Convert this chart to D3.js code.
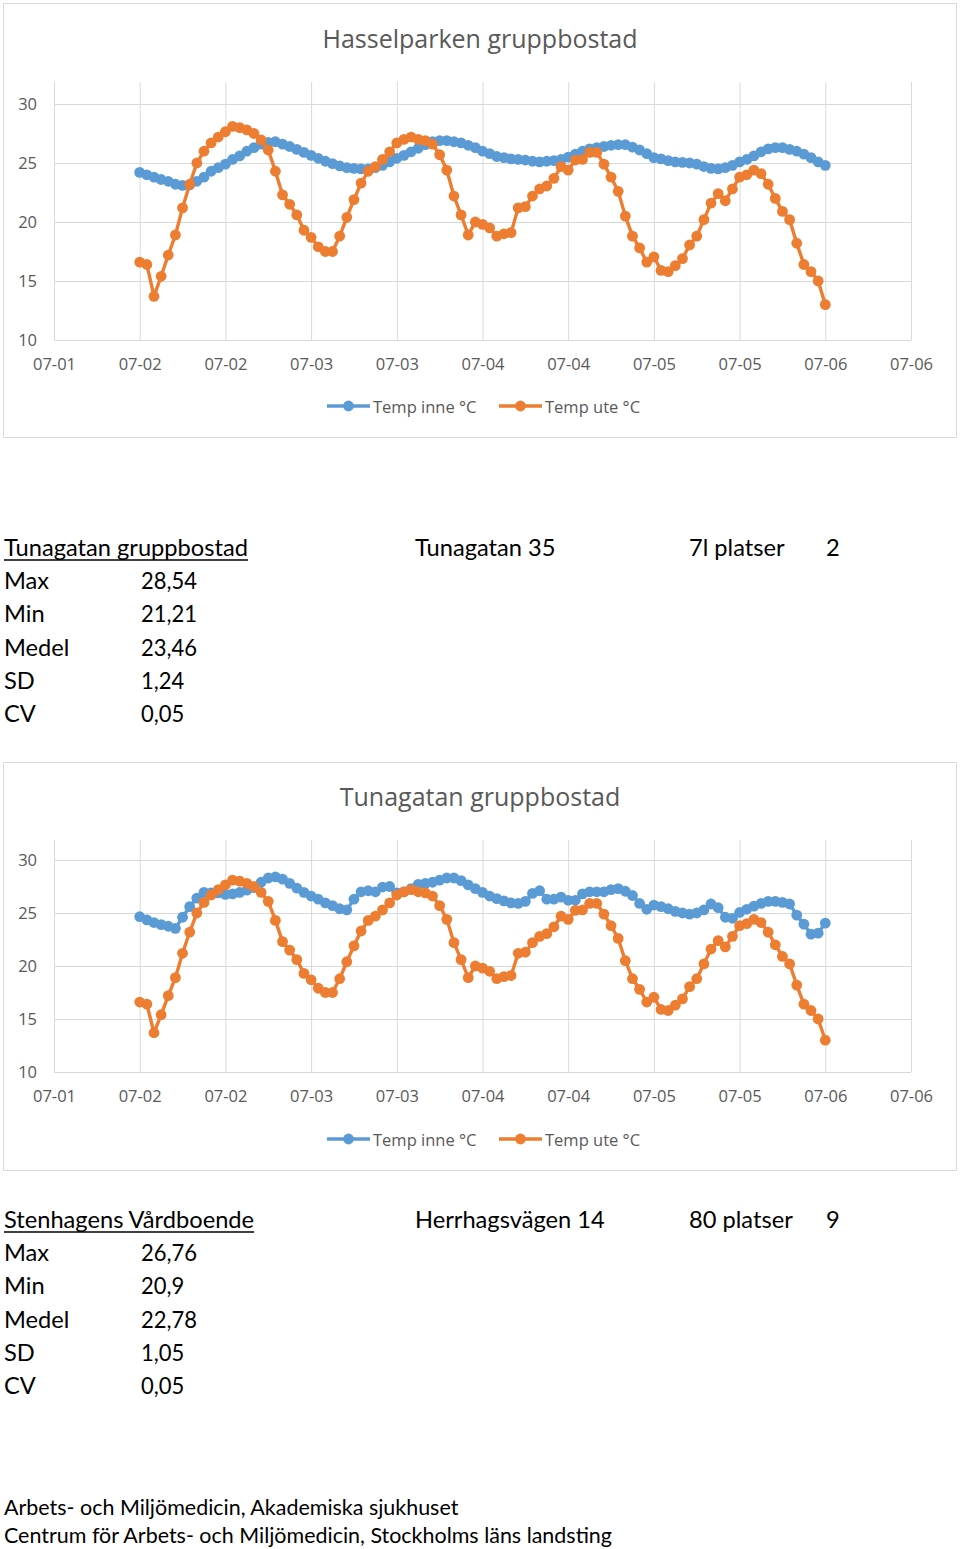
<!DOCTYPE html>
<html><head><meta charset="utf-8">
<script src="https://cdn.jsdelivr.net/npm/d3@7"></script>
<style>body{margin:0;background:#fff}svg{display:block}</style>
</head><body><svg id="c" width="960" height="1549"></svg>
<script>
// ---------------- data ----------------
const xLabels = ["07-01","07-02","07-02","07-03","07-03","07-04","07-04","07-05","07-05","07-06","07-06"];
const yTicks = [10,15,20,25,30];
const seriesNames = ["Temp inne °C","Temp ute °C"];
const chartTitles = ["Hasselparken gruppbostad","Tunagatan gruppbostad"];

const tempUte = [
16.6,16.4,13.7,15.4,17.2,18.9,21.2,23.2,25.0,26.0,
26.7,27.2,27.65,28.1,28.0,27.8,27.5,26.95,26.1,24.3,
22.3,21.5,20.6,19.3,18.7,17.9,17.5,17.5,18.8,20.4,
21.9,23.3,24.3,24.7,25.3,25.95,26.7,27.0,27.2,27.0,
26.9,26.6,25.7,24.4,22.2,20.6,18.9,20.0,19.8,19.5,
18.8,19.0,19.1,21.2,21.3,22.2,22.8,23.05,23.7,24.7,
24.4,25.25,25.3,25.9,25.9,24.9,23.8,22.6,20.5,18.8,
17.8,16.6,17.05,15.9,15.8,16.3,16.9,18.05,18.8,20.2,
21.6,22.4,21.8,22.8,23.8,24.0,24.4,24.1,23.2,22.0,
20.9,20.2,18.2,16.4,15.8,15.0,13.0];

const hasselInne = [
24.2,24.0,23.8,23.6,23.45,23.2,23.1,23.15,23.45,23.8,
24.3,24.6,24.9,25.3,25.6,26.0,26.3,26.6,26.75,26.8,
26.6,26.4,26.15,25.9,25.65,25.4,25.15,24.95,24.75,24.6,
24.55,24.5,24.5,24.6,24.8,25.1,25.4,25.65,25.95,26.25,
26.55,26.8,26.9,26.9,26.8,26.7,26.5,26.3,26.0,25.8,
25.55,25.45,25.35,25.3,25.25,25.15,25.1,25.15,25.2,25.3,
25.5,25.75,26.0,26.2,26.3,26.4,26.5,26.55,26.55,26.35,
26.1,25.8,25.45,25.35,25.2,25.1,25.05,25.0,24.9,24.7,
24.55,24.5,24.6,24.8,25.1,25.3,25.6,25.95,26.2,26.3,
26.3,26.15,26.0,25.75,25.45,25.1,24.8];

const tunaInne = [
24.65,24.35,24.1,23.9,23.75,23.55,24.6,25.6,26.4,26.95,
26.9,26.9,26.75,26.8,26.95,27.15,27.4,27.9,28.3,28.4,
28.2,27.8,27.35,26.95,26.6,26.3,25.95,25.7,25.4,25.3,
26.3,27.0,27.1,27.0,27.45,27.5,26.9,27.0,27.3,27.7,
27.8,27.9,28.1,28.3,28.3,28.05,27.65,27.3,26.95,26.6,
26.35,26.15,25.95,25.9,26.1,26.85,27.1,26.3,26.3,26.5,
26.2,26.2,26.8,27.0,27.0,27.0,27.2,27.3,27.05,26.65,
25.9,25.35,25.75,25.6,25.4,25.15,25.0,24.9,25.0,25.3,
25.85,25.5,24.6,24.5,25.05,25.35,25.65,25.9,26.1,26.1,
26.0,25.85,24.8,23.95,23.0,23.1,24.05];

const statLabels = ["Max","Min","Medel","SD","CV"];
const tunaHeader = ["Tunagatan gruppbostad","Tunagatan 35","7l platser","2"];
const tunaStats = ["28,54","21,21","23,46","1,24","0,05"];
const stenHeader = ["Stenhagens Vårdboende","Herrhagsvägen 14","80 platser","9"];
const stenStats = ["26,76","20,9","22,78","1,05","0,05"];
const footerLines = ["Arbets- och Miljömedicin, Akademiska sjukhuset",
  "Centrum för Arbets- och Miljömedicin, Stockholms läns landsting"];

// ---------------- drawing ----------------
const svg = d3.select("#c");
svg.append("rect").attr("width",960).attr("height",1549).attr("fill","#fff");

const BLUE = "#5B9BD5", ORANGE = "#ED7D31", GRID = "#D9D9D9", TXT = "#595959";
const CF = "'Open Sans', sans-serif";
const tickIdx = xLabels.map((d,i)=> -12 + i*12);
const R = 5.4, LW = 3.4;

function drawChart(cfg, title, inne, ute){
  const g = svg.append("g");
  g.append("rect").attr("x",3.5).attr("y",cfg.boxTop).attr("width",953)
    .attr("height",cfg.boxBottom-cfg.boxTop).attr("fill","#fff").attr("stroke",GRID);
  g.append("text").attr("x",480).attr("y",cfg.titleY).attr("text-anchor","middle")
    .attr("dominant-baseline","central").attr("font-family",CF).attr("font-size",25)
    .attr("fill",TXT).text(title);

  const x = d3.scaleLinear().domain([-12,108]).range([54,911]);
  const y = d3.scaleLinear().domain([10,30]).range([cfg.y10,cfg.y30]);

  const ya = g.append("g").attr("transform","translate(54,0)")
    .call(d3.axisLeft(y).tickValues(yTicks).tickSize(-857).tickPadding(17).tickFormat(d3.format("d")));
  const xa = g.append("g").attr("transform",`translate(0,${cfg.y10})`)
    .call(d3.axisBottom(x).tickValues(tickIdx).tickSize(-(cfg.y10-cfg.plotTop)).tickPadding(18)
      .tickFormat((d,i)=>xLabels[i]));
  [ya,xa].forEach(a=>{
    a.select(".domain").remove();
    a.selectAll(".tick line").attr("stroke",GRID).attr("stroke-width",1);
    a.selectAll(".tick text").attr("fill",TXT).attr("font-family",CF).attr("font-size",16.5);
  });

  const line = d3.line().x((d,i)=>x(i)).y(d=>y(d));
  [[inne,BLUE],[ute,ORANGE]].forEach(([data,col])=>{
    const s = g.append("g");
    s.append("path").datum(data).attr("d",line).attr("fill","none")
      .attr("stroke",col).attr("stroke-width",LW).attr("stroke-linejoin","round");
    s.selectAll("circle").data(data).join("circle")
      .attr("cx",(d,i)=>x(i)).attr("cy",d=>y(d)).attr("r",R).attr("fill",col);
  });

  // legend
  const items = [{name:seriesNames[0],col:BLUE,x0:327},{name:seriesNames[1],col:ORANGE,x0:499}];
  items.forEach(it=>{
    const lg = g.append("g").attr("transform",`translate(${it.x0},${cfg.legendY})`);
    lg.append("line").attr("x1",0).attr("x2",43).attr("stroke",it.col).attr("stroke-width",LW);
    lg.append("circle").attr("cx",21.5).attr("r",R).attr("fill",it.col);
    lg.append("text").attr("x",46).attr("dominant-baseline","central")
      .attr("font-family",CF).attr("font-size",16.5).attr("fill",TXT).text(it.name);
  });
}

drawChart({boxTop:3.5,boxBottom:437.5,titleY:38,plotTop:82,y10:340,y30:104,legendY:406},
  chartTitles[0], hasselInne, tempUte);
drawChart({boxTop:762.5,boxBottom:1170.5,titleY:796,plotTop:840,y10:1072,y30:860,legendY:1139},
  chartTitles[1], tunaInne, tempUte);

// text blocks
const BF = "Lato, 'Open Sans', sans-serif";
const blockTexts = [], numTexts = [], footTexts = [];
function bodyText(arr, size, x, yb, str, underline){
  const t = svg.append("text").attr("x",x).attr("y",yb).attr("font-family",BF)
    .attr("font-size",size).attr("fill","#000").text(str);
  arr.push({t,x,yb,underline});
  return t;
}
function block(header, stats, yHeader){
  const cols = [4,415,689,826];
  header.forEach((h,i)=>bodyText(blockTexts, 23, cols[i], yHeader, h, i===0));
  statLabels.forEach((l,i)=>{
    const yb = yHeader + 33.2*(i+1);
    bodyText(blockTexts, 23, 4, yb, l);
    bodyText(numTexts, 23, 141, yb, stats[i]);
  });
}
block(tunaHeader, tunaStats, 556);
block(stenHeader, stenStats, 1228);
footerLines.forEach((f,i)=>bodyText(footTexts, 22, 4, 1515 + i*28, f));

// horizontal fit to the reference's body font widths
function fit(arr, k){
  arr.forEach(b=>{
    const w = b.t.node().getComputedTextLength()*k;
    b.t.attr("textLength",w).attr("lengthAdjust","spacingAndGlyphs");
    if(b.underline){
      svg.append("line").attr("x1",b.x).attr("x2",b.x+w).attr("y1",b.yb+4).attr("y2",b.yb+4)
        .attr("stroke","#000").attr("stroke-width",1.5);
    }
  });
}
const kBlock = 244/blockTexts[0].t.node().getComputedTextLength();
const kNum = 56/numTexts[0].t.node().getComputedTextLength();
const kFoot = 608/footTexts[1].t.node().getComputedTextLength();
fit(blockTexts, kBlock);
fit(numTexts, kNum);
fit(footTexts, kFoot);
</script></body></html>
